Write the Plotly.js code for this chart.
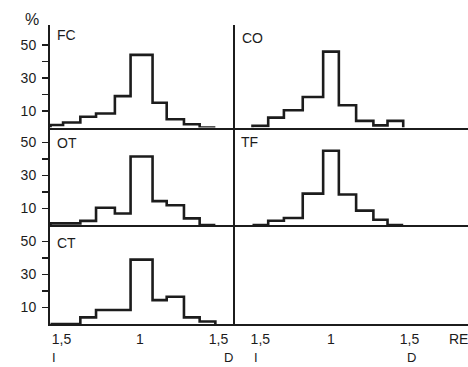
<!DOCTYPE html>
<html>
<head>
<meta charset="utf-8">
<script src="https://cdn.plot.ly/plotly-3.0.1.min.js"></script>
<style>html,body{margin:0;padding:0;background:#fff}#chart{width:468px;height:367px}</style>
</head>
<body>
<div id="chart"></div>
<script>
// ---- data ----
const edgesLeft  = [-0.57, -0.49, -0.38, -0.28, -0.16, -0.06, 0.08, 0.17, 0.28, 0.38, 0.48];
const edgesRight = [-0.50, -0.40, -0.30, -0.18, -0.05, 0.05, 0.16, 0.27, 0.36, 0.46];
const pctFC = [1.5, 3, 6.5, 8.5, 19, 44, 15, 5, 2, 0];
const pctOT = [1, 1, 2.5, 10.5, 7, 41.5, 14.5, 12, 4, 0];
const pctCT = [0, 0, 4, 8.5, 8.5, 39, 14.5, 16.5, 4, 1.5];
const pctCO = [1, 6, 10.5, 18.5, 46, 13.5, 4, 1.3, 4];
const pctTF = [0, 2.6, 4.2, 19, 45, 18.5, 8.7, 3.2, 0];
const panelNames = ["FC", "CO", "OT", "TF", "CT"];
const xTickVals = [-0.5, 0, 0.5];
const xTickText = ["1,5", "1", "1,5"];
const yTickVals = [10, 20, 30, 40, 50];
const yTickText = ["10", "", "30", "", "50"];

// ---- helpers ----
const W = 468, H = 367, ML = 50, MR = 0, MT = 25, MB = 43;
const PW = W - ML - MR, PH = H - MT - MB;
const px = v => (v - ML) / PW;
const py = v => (H - MB - v) / PH;
const INK = "#1c1c1c";
const FONT = "Liberation Sans, Arial, sans-serif";

function stepTrace(edges, vals, xa, ya) {
  const x = [edges[0]], y = [0];
  for (let i = 0; i < vals.length; i++) { x.push(edges[i]); y.push(vals[i]); }
  x.push(edges[vals.length]); y.push(0);
  return {x, y, xaxis: xa, yaxis: ya, type: "scatter", mode: "lines",
    line: {shape: "hv", color: INK, width: 2.6}, hoverinfo: "skip", showlegend: false};
}

const traces = [
  stepTrace(edgesLeft, pctFC, "x", "y"),
  stepTrace(edgesRight, pctCO, "x2", "y2"),
  stepTrace(edgesLeft, pctOT, "x3", "y3"),
  stepTrace(edgesRight, pctTF, "x4", "y4"),
  stepTrace(edgesLeft, pctCT, "x5", "y5"),
  {x: [], y: [], xaxis: "x6", yaxis: "y6", type: "scatter", mode: "lines", showlegend: false}
];

const leftDom = [0, px(234)], rightDom = [px(235), 1];
const rowDom = {FC: [py(127.5), 1], OT: [py(225), py(127.5)], CT: [0, py(225)]};
const leftRange = [(50 - 140) / 157, (234 - 140) / 157];
const rightRange = [(235 - 331) / 157, (468 - 331) / 157];
const rightTicks = [-0.45, 0, 0.5];

function xax(dom, range, anchor, bottom, tv) {
  return {domain: dom, range: range, anchor: anchor, showline: true, linecolor: INK, linewidth: 2,
    showgrid: false, zeroline: false, ticks: "", fixedrange: true,
    showticklabels: bottom, tickvals: tv, ticktext: xTickText, ticklabelstandoff: 1,
    tickfont: {family: FONT, size: 14, color: INK}};
}
function yax(dom, top, anchor, left) {
  return {domain: dom, range: [0, top], anchor: anchor, showline: true, linecolor: INK, linewidth: 2,
    showgrid: false, zeroline: false, fixedrange: true,
    ticks: left ? "outside" : "", ticklen: 6, tickwidth: 1.5, tickcolor: INK,
    tickvals: yTickVals, ticktext: yTickText, showticklabels: left, ticklabelstandoff: 3,
    tickfont: {family: FONT, size: 14, color: INK}};
}

const hFC = (127.5 - 25) / 1.65, hOT = (225 - 127.5) / 1.65, hCT = (324 - 225) / 1.65;

const ann = (text, x, y, size, xanchor) => ({text, x: px(x), y: py(y), xref: "paper", yref: "paper",
  showarrow: false, xanchor: xanchor || "left", yanchor: "middle",
  font: {family: FONT, size: size, color: INK}});

const layout = {
  width: W, height: H, margin: {l: ML, r: MR, t: MT, b: MB},
  paper_bgcolor: "#fff", plot_bgcolor: "rgba(0,0,0,0)", showlegend: false,
  xaxis:  xax(leftDom, leftRange, "y", false, xTickVals),
  yaxis:  yax(rowDom.FC, hFC, "x", true),
  xaxis2: xax(rightDom, rightRange, "y2", false, rightTicks),
  yaxis2: yax(rowDom.FC, hFC, "x2", false),
  xaxis3: xax(leftDom, leftRange, "y3", false, xTickVals),
  yaxis3: yax(rowDom.OT, hOT, "x3", true),
  xaxis4: xax(rightDom, rightRange, "y4", false, rightTicks),
  yaxis4: yax(rowDom.OT, hOT, "x4", false),
  xaxis5: xax(leftDom, leftRange, "y5", true, xTickVals),
  yaxis5: yax(rowDom.CT, hCT, "x5", true),
  xaxis6: xax(rightDom, rightRange, "y6", true, rightTicks),
  yaxis6: yax(rowDom.CT, hCT, "x6", false),
  annotations: [
    ann("%", 32, 19, 16, "center"),
    ann(panelNames[0], 55, 35, 14),
    ann(panelNames[1], 240, 38, 14),
    ann(panelNames[2], 55, 143, 14),
    ann(panelNames[3], 239, 142, 14),
    ann(panelNames[4], 55, 243, 14),
    ann("I", 54, 357, 13, "center"),
    ann("D", 228, 357, 13, "center"),
    ann("I", 256, 357, 13, "center"),
    ann("D", 411, 357, 13, "center"),
    ann("RE", 447, 339, 14)
  ]
};

Plotly.newPlot("chart", traces, layout, {staticPlot: true, displayModeBar: false});
</script>
</body>
</html>
